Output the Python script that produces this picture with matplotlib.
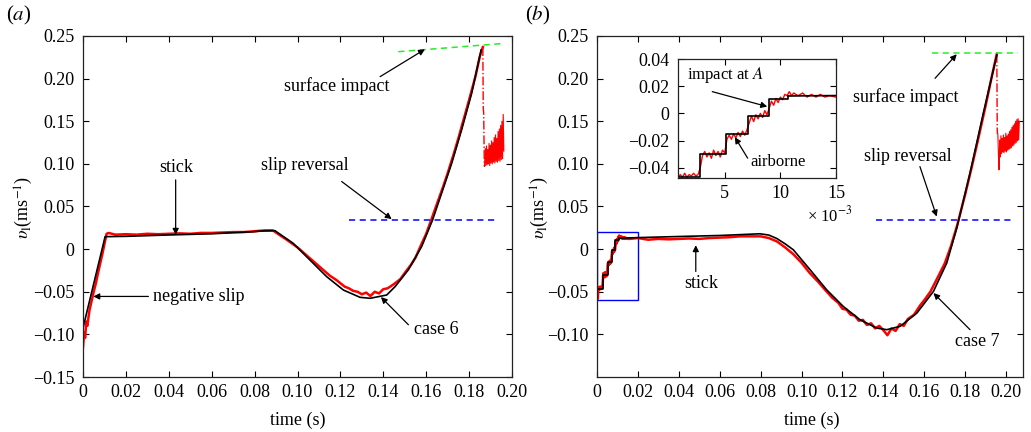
import matplotlib
matplotlib.use("Agg")

import matplotlib.pyplot as plt
from matplotlib.patches import Rectangle

plt.rcParams["font.family"] = ["Liberation Serif", "DejaVu Serif"]
plt.rcParams["mathtext.fontset"] = "stix"
plt.rcParams["font.size"] = 13

# ---------------- panel (a): case 6 ----------------
a_model_t = [0, 0.0103, 0.02, 0.04, 0.06, 0.08, 0.0825, 0.0895, 0.098, 0.1058, 0.1136,
             0.1214, 0.1291, 0.1338, 0.1416, 0.1455, 0.1517, 0.1579, 0.163, 0.1672,
             0.1719, 0.1765, 0.1812, 0.1856]
a_model_v = [-0.0925, 0.0146, 0.0150, 0.0166, 0.0180, 0.0205, 0.0212, 0.0216, 0.0068, -0.0128,
             -0.0323, -0.0480, -0.0565, -0.0577, -0.0538, -0.0440, -0.0242, 0.0031, 0.0344,
             0.0657, 0.1008, 0.1398, 0.1828, 0.2336]

a_exp_t = [0, 0.0005, 0.001, 0.0015, 0.002, 0.003, 0.004, 0.005, 0.006, 0.007, 0.008, 0.009,
           0.010, 0.011, 0.012, 0.015, 0.02, 0.025, 0.03, 0.035, 0.04, 0.045, 0.05, 0.055,
           0.06, 0.065, 0.07, 0.075, 0.08, 0.085, 0.0885, 0.092, 0.095, 0.10, 0.105, 0.11,
           0.115, 0.118, 0.12, 0.122, 0.124, 0.126, 0.128, 0.13, 0.132, 0.134, 0.136, 0.138,
           0.14, 0.142, 0.145, 0.148, 0.15, 0.153, 0.155, 0.158, 0.16, 0.1626, 0.165, 0.168,
           0.17, 0.173, 0.175, 0.178, 0.18, 0.183, 0.185, 0.1864]
a_exp_v = [-0.115, -0.098, -0.104, -0.085, -0.090, -0.072, -0.061, -0.050, -0.040, -0.028,
           -0.017, -0.006, 0.006, 0.018, 0.019, 0.017, 0.0175, 0.017, 0.018, 0.0175, 0.018,
           0.0185, 0.018, 0.019, 0.019, 0.0195, 0.020, 0.020, 0.021, 0.022, 0.022, 0.016,
           0.011, 0.002, -0.009, -0.020, -0.031, -0.036, -0.040, -0.044, -0.046, -0.049,
           -0.050, -0.053, -0.051, -0.055, -0.050, -0.052, -0.047, -0.046, -0.041, -0.035,
           -0.028, -0.018, -0.010, 0.007, 0.018, 0.036, 0.053, 0.074, 0.089, 0.113, 0.130,
           0.157, 0.175, 0.203, 0.226, 0.237]

a_drop_t = [0.1864, 0.1866, 0.1868, 0.1871]
a_drop_v = [0.237, 0.165, 0.160, 0.097]

a_blob_t = [0.1872, 0.1875, 0.1878, 0.1881, 0.1884, 0.1887, 0.1890, 0.1893, 0.1896, 0.1899,
            0.1902, 0.1905, 0.1908, 0.1911, 0.1914, 0.1917, 0.1920, 0.1923, 0.1926, 0.1929,
            0.1932, 0.1935, 0.1938, 0.1941, 0.1944, 0.1947, 0.1950, 0.1953, 0.1956, 0.1959,
            0.1962]
a_blob_v = [0.097, 0.118, 0.098, 0.121, 0.099, 0.117, 0.100, 0.124, 0.098, 0.122,
            0.101, 0.127, 0.100, 0.125, 0.102, 0.131, 0.101, 0.134, 0.103, 0.130,
            0.102, 0.138, 0.104, 0.141, 0.103, 0.145, 0.105, 0.150, 0.106, 0.158,
            0.115]

a_impact_t = [0.147, 0.1967]
a_impact_v = [0.2316, 0.2414]
a_reversal_t = [0.1242, 0.1925]
a_reversal_v = [0.0336, 0.0336]

# ---------------- panel (b): case 7 ----------------
b_step_t = [0, 0.00279, 0.00515, 0.00712, 0.00897, 0.0107]
b_step_v = [-0.0471, -0.0300, -0.0153, -0.0016, 0.0106, 0.0128]

b_model_t = [0.0107, 0.02, 0.04, 0.06, 0.07, 0.0797, 0.084, 0.0879, 0.092, 0.096, 0.1042,
             0.1123, 0.1204, 0.1286, 0.1368, 0.1417, 0.1482, 0.1564, 0.1645, 0.171, 0.1759,
             0.1824, 0.1889, 0.1955]
b_model_v = [0.0128, 0.0135, 0.0148, 0.0160, 0.0170, 0.0180, 0.0165, 0.0125, 0.0062, -0.0008,
             -0.0242, -0.0477, -0.0672, -0.0828, -0.0926, -0.0945, -0.0906, -0.0750,
             -0.0496, -0.0164, 0.0245, 0.0891, 0.1594, 0.2277]

b_exp_t = [0, 0.0002, 0.0004, 0.0006,
           0.0008, 0.0010, 0.0012, 0.0014, 0.0016, 0.0018, 0.0020, 0.0022, 0.0024, 0.0026,
           0.0028, 0.0030, 0.0032, 0.0034, 0.0036, 0.0038, 0.0040, 0.0042, 0.0044, 0.0046,
           0.0048, 0.0050,
           0.0052, 0.0054, 0.0056, 0.0058, 0.0060, 0.0062, 0.0064, 0.0066, 0.0068, 0.0070,
           0.0072, 0.0074, 0.0076, 0.0078, 0.0080, 0.0082, 0.0084, 0.0086, 0.0088,
           0.0090, 0.0092, 0.0094, 0.0096, 0.0098, 0.0100, 0.0102, 0.0104,
           0.0106, 0.0108, 0.0110, 0.0112, 0.0116, 0.0120, 0.0124, 0.0128, 0.0132, 0.0136,
           0.0140, 0.0144, 0.0150,
           0.016, 0.02, 0.025, 0.03, 0.035, 0.04, 0.045, 0.05, 0.055, 0.06, 0.065, 0.07,
           0.075, 0.08, 0.084, 0.088, 0.092, 0.096, 0.10, 0.104, 0.108, 0.112, 0.115, 0.118,
           0.12, 0.122, 0.124, 0.126, 0.128, 0.130, 0.132, 0.134, 0.136, 0.138, 0.140, 0.142,
           0.144, 0.146, 0.148, 0.150, 0.152, 0.155, 0.158, 0.16, 0.163, 0.166, 0.17, 0.173,
           0.176, 0.18, 0.183, 0.186, 0.19, 0.193, 0.1955]
b_exp_v = [-0.060, -0.052, -0.058, -0.049,
           -0.048, -0.045, -0.047, -0.044, -0.047, -0.045, -0.046, -0.044, -0.046, -0.045,
           -0.040, -0.031, -0.028, -0.032, -0.029, -0.033, -0.027, -0.031, -0.028, -0.032,
           -0.027, -0.029,
           -0.019, -0.016, -0.019, -0.015, -0.018, -0.014, -0.017, -0.013, -0.016, -0.012,
           -0.007, -0.002, -0.006, -0.001, -0.004, 0.000, -0.003, 0.002, -0.001,
           0.004, 0.009, 0.006, 0.011, 0.008, 0.012, 0.010, 0.014,
           0.013, 0.016, 0.013, 0.015, 0.013, 0.015, 0.012, 0.014, 0.012, 0.014,
           0.012, 0.013, 0.012,
           0.012, 0.013, 0.011, 0.012, 0.0115, 0.012, 0.0125, 0.012, 0.013, 0.0135, 0.014,
           0.015, 0.015, 0.015, 0.013, 0.009, 0.002, -0.006, -0.016, -0.028, -0.038, -0.049,
           -0.057, -0.063, -0.070, -0.071, -0.077, -0.078, -0.084, -0.083, -0.089, -0.087,
           -0.093, -0.090, -0.095, -0.101, -0.093, -0.096, -0.088, -0.090, -0.082, -0.077,
           -0.066, -0.060, -0.050, -0.036, -0.017, 0.003, 0.027, 0.064, 0.094, 0.125, 0.168,
           0.202, 0.229]

b_drop_t = [0.1955, 0.1957, 0.1958]
b_drop_v = [0.229, 0.140, 0.135]

b_blob_t = [0.1960, 0.1963, 0.1966, 0.1969, 0.1972, 0.1975, 0.1978, 0.1981, 0.1984, 0.1987,
            0.1990, 0.1993, 0.1996, 0.1999, 0.2002, 0.2005, 0.2008, 0.2011, 0.2014, 0.2017,
            0.2020, 0.2023, 0.2026, 0.2029, 0.2032, 0.2035, 0.2038, 0.2041, 0.2044, 0.2047,
            0.2050, 0.2053, 0.2056, 0.2059, 0.2062, 0.2065]
b_blob_v = [0.135, 0.110, 0.093, 0.128, 0.108, 0.133, 0.112, 0.130, 0.114, 0.134,
            0.113, 0.131, 0.115, 0.136, 0.114, 0.133, 0.116, 0.135, 0.117, 0.138,
            0.118, 0.140, 0.119, 0.143, 0.121, 0.145, 0.122, 0.147, 0.124, 0.150,
            0.125, 0.152, 0.127, 0.153, 0.128, 0.150]

b_impact_t = [0.1637, 0.206]
b_impact_v = [0.2305, 0.2305]
b_reversal_t = [0.1364, 0.2033]
b_reversal_v = [0.0344, 0.0344]

# tick labels
x_ticks = [0, 0.02, 0.04, 0.06, 0.08, 0.10, 0.12, 0.14, 0.16, 0.18, 0.20]
x_labels = ["0", "0.02", "0.04", "0.06", "0.08", "0.10", "0.12", "0.14", "0.16", "0.18", "0.20"]
y_ticks = [-0.15, -0.10, -0.05, 0, 0.05, 0.10, 0.15, 0.20, 0.25]
y_labels = ["\u22120.15", "\u22120.10", "\u22120.05", "0", "0.05", "0.10", "0.15", "0.20", "0.25"]
inset_x_ticks = [5, 10, 15]
inset_y_ticks = [-0.04, -0.02, 0, 0.02, 0.04]
inset_y_labels = ["\u22120.04", "\u22120.02", "0", "0.02", "0.04"]

RED = "#ff0000"
BLUE = "#0000ff"
GREEN = "#22ee22"
ARROW = dict(arrowstyle="-|>", color="black", lw=0.9, mutation_scale=9, shrinkA=0, shrinkB=0)


def style_axes(ax):
    ax.tick_params(direction="in", top=True, right=True, length=4, width=0.8, pad=6)
    ax.tick_params(axis="x", pad=5)
    for s in ax.spines.values():
        s.set_linewidth(0.9)
        s.set_color("#222222")


fig = plt.figure(figsize=(10.31, 4.32), dpi=100)

# ---- (a)
ax1 = fig.add_axes([83 / 1031, 55 / 432, 429 / 1031, 341 / 432])
ax1.plot(a_exp_t, a_exp_v, color=RED, lw=1.8)
ax1.plot(a_drop_t, a_drop_v, color=RED, lw=1.0, ls="-.")
ax1.plot(a_blob_t, a_blob_v, color=RED, lw=0.8)
ax1.plot(a_model_t, a_model_v, color="black", lw=1.2)
ax1.plot(a_impact_t, a_impact_v, color=GREEN, lw=1.1, ls=(0, (4, 3)))
ax1.plot(a_reversal_t, a_reversal_v, color=BLUE, lw=1.1, ls=(0, (4, 3)))
ax1.set_xlim(0, 0.2)
ax1.set_ylim(-0.15, 0.25)
ax1.set_xticks(x_ticks, x_labels)
ax1.set_yticks(y_ticks, y_labels)
style_axes(ax1)

ax1.text(0.1183, 0.1918, "surface impact", ha="center", va="center")
ax1.annotate("", xy=(0.1594, 0.2344), xytext=(0.1385, 0.2023), arrowprops=ARROW)
ax1.text(0.1032, 0.098, "slip reversal", ha="center", va="center")
ax1.annotate("", xy=(0.1439, 0.0352), xytext=(0.1206, 0.0793), arrowprops=ARROW)
ax1.text(0.0437, 0.0957, "stick", ha="center", va="center")
ax1.annotate("", xy=(0.0432, 0.0168), xytext=(0.0432, 0.0812), arrowprops=ARROW)
ax1.text(0.0328, -0.0555, "negative slip", ha="left", va="center")
ax1.annotate("", xy=(0.0048, -0.0555), xytext=(0.0305, -0.0555), arrowprops=ARROW)
ax1.text(0.1646, -0.0945, "case 6", ha="center", va="center")
ax1.annotate("", xy=(0.1389, -0.0562), xytext=(0.1517, -0.0887), arrowprops=ARROW)

# ---- (b)
ax2 = fig.add_axes([597 / 1031, 55 / 432, 426 / 1031, 341 / 432])
ax2.plot(b_exp_t, b_exp_v, color=RED, lw=1.8)
ax2.plot(b_drop_t, b_drop_v, color=RED, lw=1.0, ls="-.")
ax2.plot(b_blob_t, b_blob_v, color=RED, lw=0.8)
ax2.step(b_step_t, b_step_v, where="post", color="black", lw=1.2)
ax2.plot(b_model_t, b_model_v, color="black", lw=1.2)
ax2.plot(b_impact_t, b_impact_v, color=GREEN, lw=1.1, ls=(0, (4, 3)))
ax2.plot(b_reversal_t, b_reversal_v, color=BLUE, lw=1.1, ls=(0, (4, 3)))
ax2.add_patch(Rectangle((0, -0.06), 0.02, 0.08, fill=False, edgecolor=BLUE, lw=1.0))
ax2.set_xlim(0, 0.2083)
ax2.set_ylim(-0.15, 0.25)
ax2.set_xticks(x_ticks, x_labels)
ax2.set_yticks(y_ticks[1:], y_labels[1:])
style_axes(ax2)

ax2.text(0.151, 0.1789, "surface impact", ha="center", va="center")
ax2.annotate("", xy=(0.1759, 0.2286), xytext=(0.1653, 0.2004), arrowprops=ARROW)
ax2.text(0.1522, 0.1086, "slip reversal", ha="center", va="center")
ax2.annotate("", xy=(0.1661, 0.0382), xytext=(0.1579, 0.0968), arrowprops=ARROW)
ax2.text(0.0512, -0.0398, "stick", ha="center", va="center")
ax2.annotate("", xy=(0.0483, 0.0046), xytext=(0.0483, -0.0262), arrowprops=ARROW)
ax2.text(0.1857, -0.108, "case 7", ha="center", va="center")
ax2.annotate("", xy=(0.1645, -0.0515), xytext=(0.1824, -0.0945), arrowprops=ARROW)

# ---- inset (time in ms)
ins = fig.add_axes([678 / 1031, 254 / 432, 158 / 1031, 119 / 432])
ins.plot([t * 1e3 for t in b_exp_t], b_exp_v, color=RED, lw=1.0)
ins.step([t * 1e3 for t in b_step_t], b_step_v, where="post", color="black", lw=1.2)
ins.plot([t * 1e3 for t in b_model_t], b_model_v, color="black", lw=1.2)
ins.set_xlim(0.8, 15)
ins.set_ylim(-0.0475, 0.04)
ins.set_xticks(inset_x_ticks)
ins.set_yticks(inset_y_ticks, inset_y_labels)
style_axes(ins)
ins.text(5.09, 0.0283, "impact at $\\mathit{A}$", ha="center", va="center", fontsize=12)
ins.annotate("", xy=(8.82, 0.005), xytext=(3.88, 0.016), arrowprops=ARROW)
ins.text(9.79, -0.0354, "airborne", ha="center", va="center", fontsize=12)
ins.annotate("", xy=(5.91, -0.0175), xytext=(7.06, -0.0329), arrowprops=ARROW)
fig.text(830 / 1031, 1 - 215 / 432, "\u00d7 10$^{-3}$", ha="center", va="center", fontsize=12)

# axis labels and panel labels
ylab = "$\\upsilon_\\mathrm{l}$(ms$^{-1}$)"
fig.text(24 / 1031, 1 - 207 / 432, ylab, rotation=90, ha="center", va="center")
fig.text(540 / 1031, 1 - 207 / 432, ylab, rotation=90, ha="center", va="center")
fig.text(298 / 1031, 1 - 420 / 432, "time (s)", ha="center", va="center")
fig.text(812 / 1031, 1 - 420 / 432, "time (s)", ha="center", va="center")
fig.text(19 / 1031, 1 - 15 / 432, "($\\mathit{a}$)", ha="center", va="center", fontsize=15)
fig.text(538 / 1031, 1 - 15 / 432, "($\\mathit{b}$)", ha="center", va="center", fontsize=15)

fig.savefig("out.png", dpi=100)
plt.close(fig)
